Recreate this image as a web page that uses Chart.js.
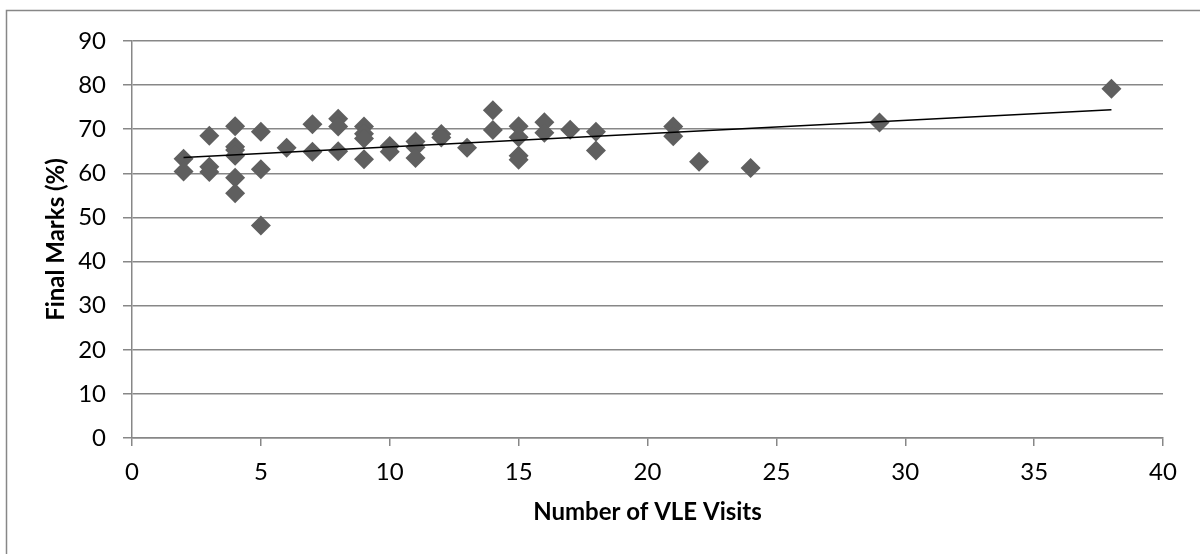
<!DOCTYPE html>
<html>
<head>
<meta charset="utf-8">
<script src="https://cdn.jsdelivr.net/npm/chart.js@4/dist/chart.umd.min.js"></script>
<style>
  html, body { margin: 0; padding: 0; background: #fff; }
  #wrap { position: relative; width: 1200px; height: 554px; }
</style>
</head>
<body>
<div id="wrap"><canvas id="c" width="1200" height="554"></canvas></div>
<script>
// ---- data ----
const visits = [2,2, 3,3,3, 4,4,4,4,4,4, 5,5,5, 6, 7,7, 8,8,8, 9,9,9,9, 10,10, 11,11,11, 12,12, 13, 14,14, 15,15,15,15, 16,16, 17, 18,18, 21,21, 22, 24, 29, 38];
const marks  = [63.3,60.4, 68.5,61.5,60.3, 70.7,66.0,65.3,64.0,59.0,55.5, 69.4,60.9,48.2, 65.8, 71.1,64.9, 72.4,70.6,65.0, 70.6,69.0,67.9,63.2, 66.2,64.9, 67.2,65.9,63.5, 68.9,68.1, 65.8, 74.3,69.8, 70.7,68.2,64.0,63.1, 71.6,69.2, 69.9, 69.4,65.2, 70.6,68.4, 62.6, 61.2, 71.5, 79.2];
const trendX = [2, 38];
const trendY = [63.6, 74.4];
const xTitle = 'Number of VLE Visits';
const yTitle = 'Final Marks (%)';

const scatterPts = visits.map((v, i) => ({x: v, y: marks[i]}));
const trendPts = trendX.map((v, i) => ({x: v, y: trendY[i]}));

const FONT = 'Lato, "Open Sans", sans-serif';

const borderPlugin = {
  id: 'outerBorder',
  beforeDraw(chart) {
    const ctx = chart.ctx;
    ctx.save();
    ctx.fillStyle = '#fff';
    ctx.fillRect(0, 0, chart.width, chart.height);
    ctx.strokeStyle = '#878787';
    ctx.lineWidth = 1.5;
    ctx.strokeRect(6.5, 10.5, 1400, 800);
    ctx.restore();
  }
};

new Chart(document.getElementById('c'), {
  type: 'scatter',
  data: {
    datasets: [
      {
        type: 'line',
        data: trendPts,
        borderColor: '#000',
        borderWidth: 1.6,
        pointRadius: 0,
        fill: false,
        order: 0
      },
      {
        data: scatterPts,
        pointStyle: 'rectRot',
        pointRadius: 10,
        pointHoverRadius: 10,
        backgroundColor: '#5f5f5f',
        borderColor: '#5f5f5f',
        borderWidth: 0,
        order: 1
      }
    ]
  },
  options: {
    responsive: false,
    animation: false,
    events: [],
    layout: { padding: { left: 0, right: 37, top: 41, bottom: 0 } },
    plugins: { legend: { display: false }, tooltip: { enabled: false } },
    scales: {
      x: {
        type: 'linear',
        min: 0, max: 40,
        ticks: { stepSize: 5, color: '#000', font: { family: FONT, size: 24 }, padding: 12 },
        grid: { drawOnChartArea: false, drawTicks: true, tickLength: 8, color: '#878787', lineWidth: 1.5 },
        border: { color: '#878787', width: 1.5 },
        title: { display: true, text: xTitle, color: '#000', font: { family: FONT, size: 24, weight: 'bold' }, padding: { top: 0, bottom: 27 } },
        afterFit(scale) { scale.height = 116; }
      },
      y: {
        type: 'linear',
        min: 0, max: 90,
        ticks: { stepSize: 10, color: '#000', font: { family: FONT, size: 24 }, padding: 17 },
        grid: { drawOnChartArea: true, drawTicks: true, tickLength: 9, color: '#878787', lineWidth: 1.5 },
        border: { color: '#878787', width: 1.5 },
        title: { display: true, text: yTitle, color: '#000', font: { family: FONT, size: 24, weight: 'bold' }, padding: { top: 42, bottom: 0 } },
        afterFit(scale) { scale.width = 132; }
      }
    }
  },
  plugins: [borderPlugin]
});
</script>
</body>
</html>
